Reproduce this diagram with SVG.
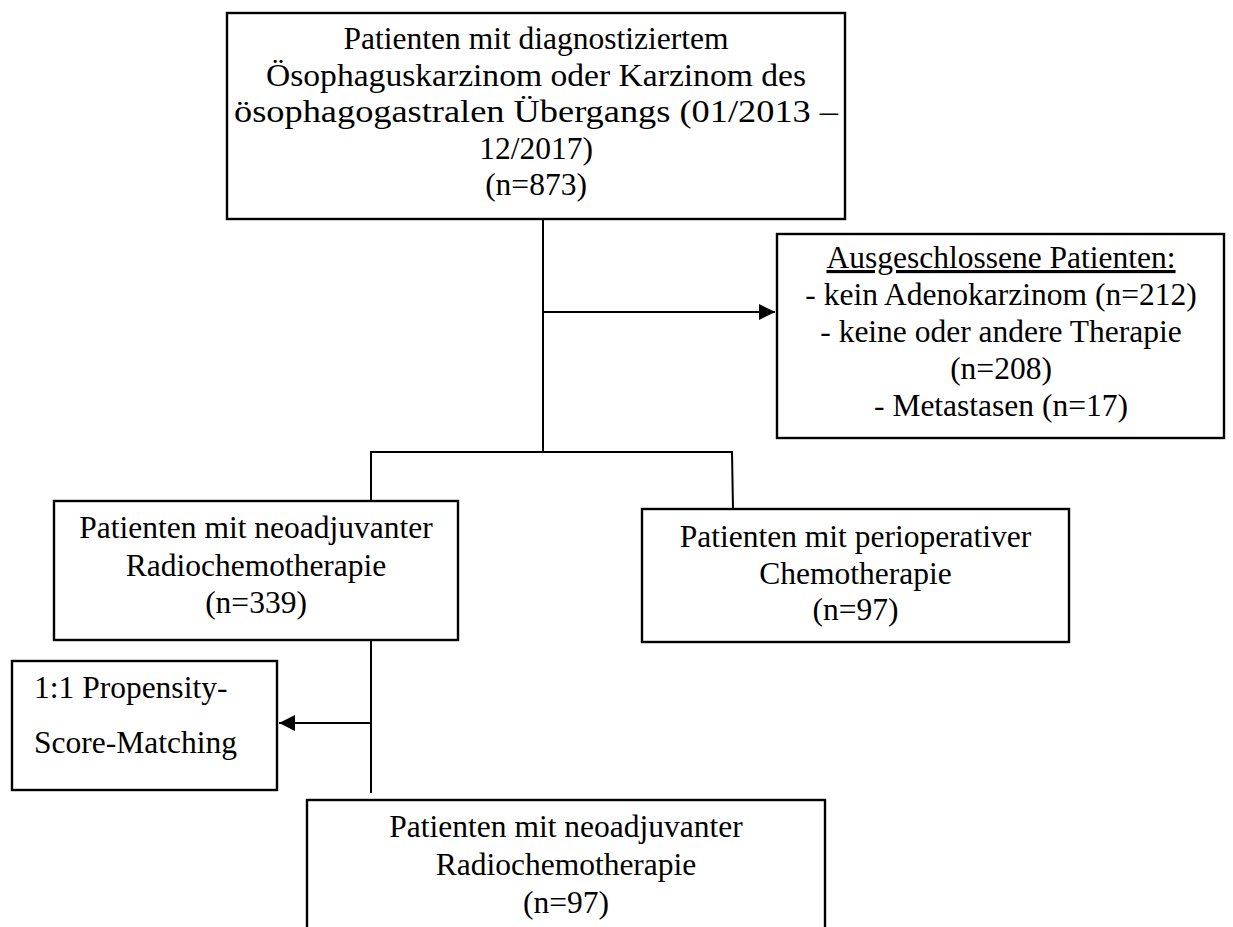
<svg xmlns="http://www.w3.org/2000/svg" width="1233" height="927" viewBox="0 0 1233 927">
<style>
.box{fill:#fff;stroke:#000;stroke-width:2.4}
.t{font-family:"Liberation Serif","Times New Roman",serif;font-size:31.5px;fill:#000}
.c{text-anchor:middle}
.ln{fill:none;stroke:#000;stroke-width:2}
</style>
<defs>
<marker id="ah" viewBox="0 0 16 16" refX="16" refY="8" markerWidth="16" markerHeight="16" markerUnits="userSpaceOnUse" orient="auto">
<path d="M0,0 L16,8 L0,16 Z" fill="#000"/>
</marker>
</defs>
<rect width="1233" height="927" fill="#fff"/>
<g id="connectors">
<line class="ln" x1="543" y1="219" x2="543" y2="452"/>
<line class="ln" x1="543" y1="312" x2="775" y2="312" marker-end="url(#ah)"/>
<polyline class="ln" points="371,501 371,452 732,452 733,509"/>
<line class="ln" x1="371" y1="640" x2="371" y2="793"/>
<line class="ln" x1="371" y1="723" x2="279" y2="723" marker-end="url(#ah)"/>
</g>
<g id="n-start">
<rect class="box" x="227" y="13" width="618" height="206"/>
<text class="t c" x="536" y="49">Patienten mit diagnostiziertem</text>
<text class="t c" x="536" y="85.5" textLength="540" lengthAdjust="spacingAndGlyphs">Ösophaguskarzinom oder Karzinom des</text>
<text class="t c" x="536" y="122" textLength="604" lengthAdjust="spacingAndGlyphs">ösophagogastralen Übergangs (01/2013 –</text>
<text class="t c" x="536" y="158.5">12/2017)</text>
<text class="t c" x="536" y="195">(n=873)</text>
</g>
<g id="n-excluded">
<rect class="box" x="777" y="234" width="447" height="204"/>
<text class="t c" x="1001" y="268" text-decoration="underline">Ausgeschlossene Patienten:</text>
<text class="t c" x="1001" y="305">- kein Adenokarzinom (n=212)</text>
<text class="t c" x="1001" y="342">- keine oder andere Therapie</text>
<text class="t c" x="1001" y="379">(n=208)</text>
<text class="t c" x="1001" y="416">- Metastasen (n=17)</text>
</g>
<g id="n-rct">
<rect class="box" x="54" y="501" width="404" height="139"/>
<text class="t c" x="256" y="538">Patienten mit neoadjuvanter</text>
<text class="t c" x="256" y="575.5">Radiochemotherapie</text>
<text class="t c" x="256" y="613">(n=339)</text>
</g>
<g id="n-periop">
<rect class="box" x="642" y="509" width="427" height="133"/>
<text class="t c" x="855.5" y="547">Patienten mit perioperativer</text>
<text class="t c" x="855.5" y="583.5">Chemotherapie</text>
<text class="t c" x="855.5" y="620">(n=97)</text>
</g>
<g id="n-psm">
<rect class="box" x="12" y="661" width="265" height="129"/>
<text class="t" x="34" y="698">1:1 Propensity-</text>
<text class="t" x="34" y="753">Score-Matching</text>
</g>
<g id="n-rct-matched">
<rect class="box" x="307" y="800" width="518" height="140"/>
<text class="t c" x="566" y="837">Patienten mit neoadjuvanter</text>
<text class="t c" x="566" y="875">Radiochemotherapie</text>
<text class="t c" x="566" y="913">(n=97)</text>
</g>
</svg>
